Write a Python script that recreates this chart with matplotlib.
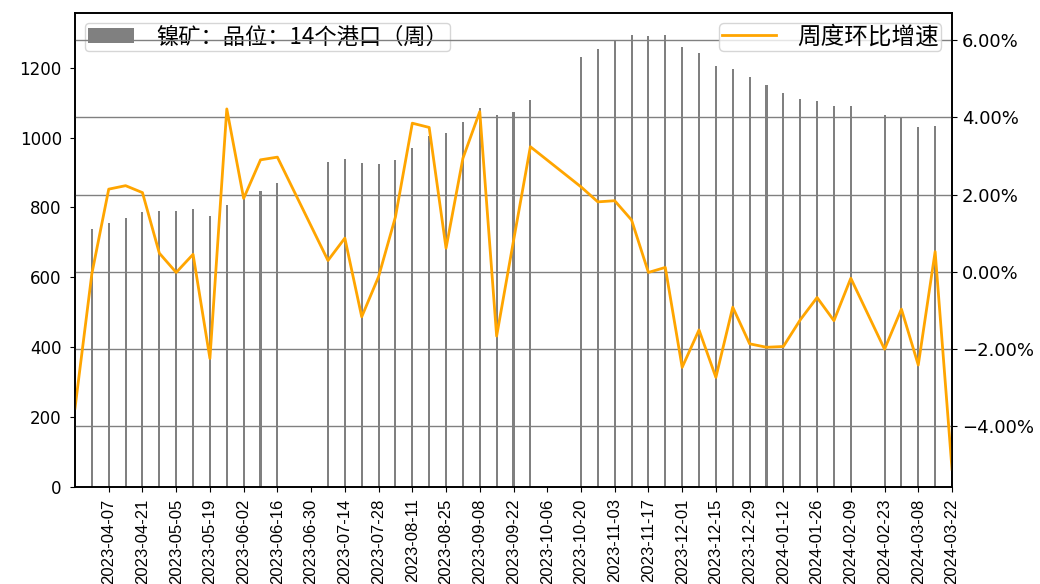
import matplotlib
matplotlib.use("Agg")
import matplotlib.pyplot as plt
import matplotlib.dates as mdates
from matplotlib.ticker import PercentFormatter, MultipleLocator
import numpy as np
import pandas as pd

plt.rcParams['font.family'] = ['DejaVu Sans', 'Noto Sans CJK SC']

dates = ['2023-03-24', '2023-03-31', '2023-04-07', '2023-04-14', '2023-04-21',
         '2023-04-28', '2023-05-05', '2023-05-12', '2023-05-19', '2023-05-26',
         '2023-06-02', '2023-06-09', '2023-06-16', '2023-07-07', '2023-07-14',
         '2023-07-21', '2023-07-28', '2023-08-04', '2023-08-11', '2023-08-18',
         '2023-08-25', '2023-09-01', '2023-09-08', '2023-09-15', '2023-09-22',
         '2023-09-29', '2023-10-20', '2023-10-27', '2023-11-03', '2023-11-10',
         '2023-11-17', '2023-11-24', '2023-12-01', '2023-12-08', '2023-12-15',
         '2023-12-22', '2023-12-29', '2024-01-05', '2024-01-12', '2024-01-19',
         '2024-01-26', '2024-02-02', '2024-02-09', '2024-02-23', '2024-03-01',
         '2024-03-08', '2024-03-15', '2024-03-22']

inventory = [np.nan, 737, 754, 771, 786,
             790, 790, 794, 776, 807,
             824, 846, 871, 931, 938,
             928, 924, 935, 970, 1006,
             1012, 1044, 1086, 1066, 1073,
             1109, 1231, 1255, 1279, 1295,
             1291, 1295, 1260, 1243, 1206,
             1196, 1175, 1150, 1129, 1111,
             1104, 1090, 1090, 1066, 1057,
             1031, 1034, 983]

growth_pct = [-3.54, -0.05, 2.14, 2.23, 2.05,
              0.48, -0.02, 0.45, -2.25, 4.22,
              1.90, 2.90, 2.97, 0.29, 0.87,
              -1.17, -0.13, 1.42, 3.85, 3.74,
              0.61, 2.94, 4.15, -1.67, 0.80,
              3.24, 2.20, 1.81, 1.84, 1.34,
              -0.02, 0.11, -2.48, -1.51, -2.74,
              -0.92, -1.87, -1.96, -1.94, -1.25,
              -0.67, -1.27, -0.17, -2.01, -0.97,
              -2.42, 0.52, -5.12]

bar_label = '镍矿：品位：14个港口（周）'
line_label = '周度环比增速'

x = pd.to_datetime(dates)

fig = plt.figure(figsize=(10.4, 5.84), dpi=100)
ax1 = fig.add_axes([75 / 1040, 1 - 486.5 / 584, (952 - 75) / 1040, (486.5 - 12.7) / 584])
ax2 = ax1.twinx()

ax1.bar(x, inventory, width=0.85, color='gray', label=bar_label)
ax2.plot(x, growth_pct, color='orange', lw=2, label=line_label)

ax1.set_xlim(x[0], x[-1])
ax1.set_ylim(0, 1358)
ax1.yaxis.set_major_locator(MultipleLocator(200))
ax2.set_ylim(-5.57, 6.715)
ax2.yaxis.set_major_locator(MultipleLocator(2))
ax2.yaxis.set_major_formatter(PercentFormatter(xmax=100, decimals=2))
ax2.grid(axis='y', color='gray', lw=1)

ticks = pd.date_range('2023-04-07', '2024-03-22', freq='14D')
ax1.set_xticks(ticks)
ax1.xaxis.set_major_formatter(mdates.DateFormatter('%Y-%m-%d'))
for lab in ax1.get_xticklabels():
    lab.set_rotation(90)
    lab.set_fontfamily(['Liberation Sans', 'DejaVu Sans'])
    lab.set_fontsize(12)
ax1.tick_params(axis='x', pad=5)

ax1.tick_params(axis='y', labelsize=12, pad=6)
ax2.tick_params(axis='y', labelsize=13)

for ax in (ax1, ax2):
    for s in ax.spines.values():
        s.set_linewidth(1.2)

prop = {'family': ['Noto Sans CJK SC', 'DejaVu Sans'], 'size': 16}
ax1.legend(loc='upper left', prop=prop, borderpad=0.12, handlelength=2.07,
           handletextpad=1.0, borderaxespad=0.45)
prop2 = {'family': ['Noto Sans CJK SC', 'DejaVu Sans'], 'size': 17}
ax2.legend(loc='upper right', prop=prop2, borderpad=0.1, handlelength=2.3,
           handletextpad=0.9, borderaxespad=0.45)

fig.savefig('out.png', dpi=100)
